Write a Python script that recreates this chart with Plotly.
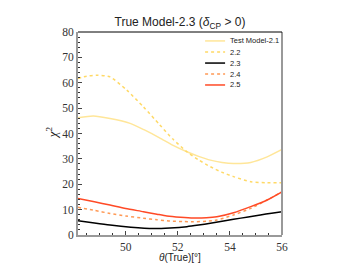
import plotly.graph_objects as go

theta_21 = [48.17, 48.76, 49.4, 50.17, 50.7, 51.3, 51.8, 52.35, 52.8, 53.25, 53.7, 54.14, 54.8, 55.43, 56.0]
chi_21 = [46.2, 46.9, 45.9, 44.0, 41.5, 38.3, 35.4, 32.8, 31.0, 29.5, 28.6, 28.2, 28.6, 30.8, 33.7]

theta_22 = [48.17, 48.5, 48.9, 49.4, 50.04, 50.68, 51.3, 51.8, 52.35, 52.8, 53.25, 53.7, 54.14, 54.8, 55.43, 56.0]
chi_22 = [61.7, 62.6, 63.0, 62.3, 57.1, 50.5, 43.5, 37.9, 32.8, 29.6, 26.9, 24.7, 23.0, 21.0, 20.6, 20.6]

theta_23 = [48.17, 48.8, 49.4, 50.2, 51.07, 51.7, 52.35, 52.8, 53.25, 53.7, 54.14, 54.7, 55.17, 55.6, 56.0]
chi_23 = [5.6, 4.7, 3.9, 3.1, 2.6, 2.8, 3.3, 3.9, 4.6, 5.4, 6.2, 7.1, 7.9, 8.6, 9.2]

theta_24 = [48.17, 48.8, 49.4, 50.0, 50.68, 51.2, 51.7, 52.2, 52.6, 53.1, 53.5, 54.14, 54.8, 55.43, 56.0]
chi_24 = [10.9, 9.7, 8.5, 7.5, 6.6, 6.0, 5.5, 5.3, 5.2, 5.4, 5.9, 7.9, 10.5, 13.8, 17.0]

theta_25 = [48.17, 48.8, 49.4, 50.0, 50.68, 51.2, 51.58, 52.1, 52.6, 53.1, 53.5, 54.14, 54.8, 55.43, 56.0]
chi_25 = [14.4, 13.1, 11.8, 10.4, 9.2, 8.2, 7.5, 7.0, 6.7, 6.8, 7.2, 8.8, 11.2, 13.8, 17.0]

names = ["Test Model-2.1", "2.2", "2.3", "2.4", "2.5"]

x_ticks = [50, 52, 54, 56]
y_ticks = [0, 10, 20, 30, 40, 50, 60, 70, 80]

colors = ["#ffe699", "#ffd966", "#000000", "#ff9955", "#ff4a26"]
dashes = ["solid", "dot", "solid", "dot", "solid"]
xs = [theta_21, theta_22, theta_23, theta_24, theta_25]
ys = [chi_21, chi_22, chi_23, chi_24, chi_25]

fig = go.Figure()
for name, x, y, c, d in zip(names, xs, ys, colors, dashes):
    fig.add_trace(go.Scatter(x=x, y=y, mode="lines", name=name, showlegend=False,
                             line=dict(color=c, dash=d, width=1.5, shape="spline", smoothing=0.6)))

sans = "Liberation Sans, Arial, sans-serif"
# compact legend (matplotlib-style) drawn in paper coordinates
leg_y = [0.956, 0.901, 0.847, 0.793, 0.739]
for name, c, d, ly in zip(names, colors, dashes, leg_y):
    fig.add_shape(type="line", xref="paper", yref="paper", x0=0.623, x1=0.721, y0=ly, y1=ly,
                  line=dict(color=c, dash=d, width=1.5))
    fig.add_annotation(xref="paper", yref="paper", x=0.733, y=ly, text=name, showarrow=False,
                       xanchor="left", yanchor="middle",
                       font=dict(family=sans, size=7.5, color="#222"))

# axis titles as annotations for exact placement
fig.add_annotation(xref="paper", yref="paper", x=0.5, y=-0.113, text="<i>θ</i>(True)[°]",
                   showarrow=False, xanchor="center", yanchor="middle",
                   font=dict(family=sans, size=10, color="#222"))
fig.add_annotation(xref="paper", yref="paper", x=-0.127, y=0.502, text="<i>χ</i><sup>2</sup>",
                   showarrow=False, xanchor="center", yanchor="middle", textangle=-90,
                   font=dict(family="Liberation Serif", size=13, color="#222"))

serif = "Liberation Serif"
fig.update_layout(
    width=352, height=264,
    margin=dict(l=70, r=78, t=24, b=37, autoexpand=False),
    paper_bgcolor="white", plot_bgcolor="white",
    title=dict(text="True Model-2.3 (<i>δ</i><sub>CP</sub> > 0)", x=0.5, xref="paper", xanchor="center",
               y=0.947, yanchor="middle", font=dict(family=sans, size=12, color="#222")),
    showlegend=False,
    xaxis=dict(range=[48.17, 56], tickvals=x_ticks, ticks="inside", ticklen=4, automargin=False,
               tickfont=dict(family=serif, size=11.5, color="#333"),
               showgrid=False, zeroline=False, showline=True, linecolor="#999", linewidth=2,
               minor=dict(dtick=0.5, ticks="inside", ticklen=2, tickcolor="#333")),
    yaxis=dict(range=[0, 80], tickvals=y_ticks, ticks="inside", ticklen=4, automargin=False,
               tickfont=dict(family=serif, size=11.5, color="#333"),
               showgrid=False, zeroline=False, showline=True, linecolor="#999", linewidth=2,
               minor=dict(dtick=2, ticks="inside", ticklen=2, tickcolor="#333")),
)
fig.add_shape(type="line", xref="paper", yref="paper", x0=1, x1=1, y0=0, y1=1,
              line=dict(color="#999", width=2))
fig.add_shape(type="line", xref="paper", yref="paper", x0=0, x1=1, y0=1, y1=1,
              line=dict(color="#000", width=1))

fig.write_html("out.html")
